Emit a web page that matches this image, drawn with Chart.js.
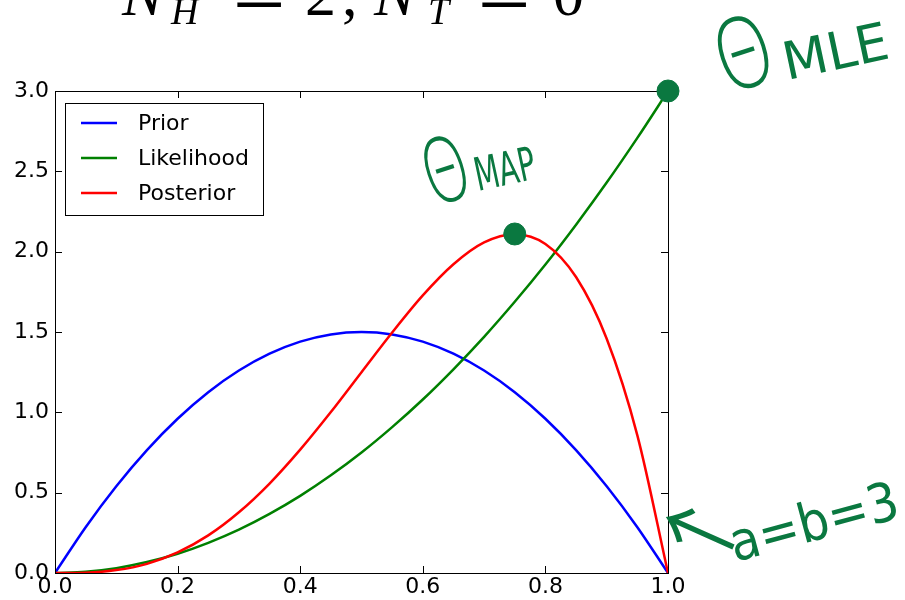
<!DOCTYPE html>
<html>
<head>
<meta charset="utf-8">
<script src="https://cdn.jsdelivr.net/npm/chart.js@4"></script>
<style>
  body { margin: 0; background: #fff; }
  #wrap { width: 905px; height: 600px; }
</style>
</head>
<body>
<div id="wrap"><canvas id="betaChart" width="905" height="600"></canvas></div>
<script>
// Valores (theta de 0 a 1)
const thetas = [0, 0.05, 0.1, 0.15, 0.2, 0.25, 0.3, 0.35, 0.4, 0.45, 0.5, 0.55, 0.6, 0.65, 0.7, 0.75, 0.8, 0.85, 0.9, 0.95, 1.0];
const priorVals = [0, 0.285, 0.54, 0.765, 0.96, 1.125, 1.26, 1.365, 1.44, 1.485, 1.5, 1.485, 1.44, 1.365, 1.26, 1.125, 0.96, 0.765, 0.54, 0.285, 0];
const likelihoodVals = [0, 0.008, 0.03, 0.068, 0.12, 0.188, 0.27, 0.368, 0.48, 0.608, 0.75, 0.908, 1.08, 1.268, 1.47, 1.688, 1.92, 2.168, 2.43, 2.708, 3.0];
const posteriorVals = [0, 0.002, 0.018, 0.057, 0.128, 0.234, 0.378, 0.557, 0.768, 1.002, 1.25, 1.497, 1.728, 1.922, 2.058, 2.109, 2.048, 1.842, 1.458, 0.857, 0];
const seriesNames = ['Prior', 'Likelihood', 'Posterior'];
const seriesColors = ['#0000ff', '#008000', '#ff0000'];
// Pontos marcados à mão (MAP e MLE)
const markThetas = [0.75, 1.0];
const markVals = [2.11, 3.0];
const xTicks = [0, 0.2, 0.4, 0.6, 0.8, 1.0];
const yTicks = [0, 0.5, 1.0, 1.5, 2.0, 2.5, 3.0];

const inkGreen = '#0a7840';

function pairs(xs, ys) {
    return xs.map((x, i) => ({ x: x, y: ys[i] }));
}

// Moldura, ticks para dentro e legenda (estilo matplotlib)
const framePlugin = {
    id: 'frame',
    afterDatasetDraw(chart, args) {
        if (args.index !== 2) return;
        const ctx = chart.ctx;
        const a = chart.chartArea;
        const xs = chart.scales.x, ys = chart.scales.y;
        ctx.save();
        ctx.strokeStyle = '#000';
        ctx.lineWidth = 1;
        ctx.strokeRect(Math.round(a.left) + 0.5, Math.round(a.top) + 0.5,
            Math.round(a.right - a.left), Math.round(a.bottom - a.top));
        ctx.beginPath();
        xTicks.forEach(v => {
            const px = Math.round(xs.getPixelForValue(v)) + 0.5;
            ctx.moveTo(px, a.bottom); ctx.lineTo(px, a.bottom - 7);
            ctx.moveTo(px, a.top); ctx.lineTo(px, a.top + 7);
        });
        yTicks.forEach(v => {
            const py = Math.round(ys.getPixelForValue(v)) + 0.5;
            ctx.moveTo(a.left, py); ctx.lineTo(a.left + 7, py);
            ctx.moveTo(a.right, py); ctx.lineTo(a.right - 7, py);
        });
        ctx.stroke();

        // legenda
        ctx.fillStyle = '#fff';
        ctx.fillRect(65, 103, 198, 112);
        ctx.strokeRect(65.5, 103.5, 198, 112);
        ctx.font = '22px "DejaVu Sans"';
        ctx.textBaseline = 'middle';
        ctx.textAlign = 'left';
        seriesNames.forEach((name, i) => {
            const y = 123 + i * 35;
            ctx.strokeStyle = seriesColors[i];
            ctx.lineWidth = 2.5;
            ctx.beginPath();
            ctx.moveTo(81, y); ctx.lineTo(117, y);
            ctx.stroke();
            ctx.fillStyle = '#000';
            ctx.fillText(name, 138, y + 1);
        });
        ctx.restore();
    },
    afterDraw(chart) {
        const ctx = chart.ctx;
        ctx.save();
        // título cortado no topo
        ctx.fillStyle = '#000';
        const big = '62px "Liberation Serif"';
        const bigIt = 'italic 62px "Liberation Serif"';
        const subIt = 'italic 38px "Liberation Serif"';
        const eq = '58px "DejaVu Serif"';
        const parts = [
            [bigIt, 'N', 122, 15, 1], [subIt, 'H', 171, 24, 1], [eq, '=', 230, 17, 1.2],
            [big, '2', 305, 15, 1], [big, ',', 342, 15, 1],
            [bigIt, 'N', 374, 15, 1], [subIt, 'T', 428, 24, 1], [eq, '=', 475, 17, 1.2],
            [big, '0', 553, 15, 1]
        ];
        parts.forEach(p => hand(ctx, p[1], p[2], p[3], 0, p[4], p[0]));

        // anotações manuscritas
        ctx.fillStyle = inkGreen;
        handC(ctx, 'Θ', 743, 52, 100, -18, 0.72, '300 100px "Open Sans"');
        hand(ctx, 'MLE', 787, 80, -12, 1, '52px "DejaVu Sans"');
        handC(ctx, 'Θ', 445, 169, 92, -18, 0.62, '300 92px "Open Sans"');
        hand(ctx, 'MAP', 478, 191, -12, 0.62, '46px "DejaVu Sans"');
        ctx.save();
        ctx.translate(700, 532);
        ctx.rotate(24 * Math.PI / 180);
        ctx.font = '80px "Noto Sans CJK SC"';
        ctx.textAlign = 'center';
        ctx.textBaseline = 'middle';
        ctx.fillText('←', 0, 0);
        ctx.restore();
        hand(ctx, 'a=b=3', 735, 562, -15, 0.9, '54px "DejaVu Sans"');
        ctx.restore();
    }
};

function hand(ctx, text, x, y, angle, sx, font) {
    ctx.save();
    ctx.translate(x, y);
    ctx.rotate(angle * Math.PI / 180);
    ctx.scale(sx, 1);
    ctx.font = font;
    ctx.textAlign = 'left';
    ctx.textBaseline = 'alphabetic';
    ctx.fillText(text, 0, 0);
    ctx.restore();
}

// desenha um glifo centrado em (cx, cy)
function handC(ctx, text, cx, cy, size, angle, sx, font) {
    ctx.save();
    ctx.translate(cx, cy);
    ctx.rotate(angle * Math.PI / 180);
    ctx.scale(sx, 1);
    ctx.font = font;
    ctx.textAlign = 'center';
    ctx.textBaseline = 'alphabetic';
    ctx.fillText(text, 0, size * 0.36);
    ctx.restore();
}

Chart.defaults.font.family = '"DejaVu Sans"';
Chart.defaults.color = '#000';

const datasets = seriesNames.map((name, i) => ({
    label: name,
    data: pairs(thetas, [priorVals, likelihoodVals, posteriorVals][i]),
    borderColor: seriesColors[i],
    borderWidth: 2.5,
    pointRadius: 0,
    cubicInterpolationMode: 'monotone',
    fill: false,
    order: 3 - i
}));
datasets.push({
    label: 'marks',
    type: 'scatter',
    data: pairs(markThetas, markVals),
    backgroundColor: inkGreen,
    borderColor: inkGreen,
    pointRadius: 11,
    pointHoverRadius: 11,
    clip: false,
    order: 0
});

new Chart(document.getElementById('betaChart'), {
    type: 'line',
    data: { datasets: datasets },
    options: {
        responsive: false,
        animation: false,
        devicePixelRatio: 1,
        layout: { padding: { left: 0, right: 237, top: 91, bottom: 0 } },
        plugins: { legend: { display: false }, tooltip: { enabled: false } },
        scales: {
            x: {
                type: 'linear', min: 0, max: 1,
                afterFit: s => { s.height = 27; },
                afterBuildTicks: s => { s.ticks = xTicks.map(v => ({ value: v })); },
                ticks: { callback: v => v.toFixed(1), font: { size: 22 }, padding: 1, maxRotation: 0 },
                grid: { display: false, drawTicks: false },
                border: { display: false }
            },
            y: {
                type: 'linear', min: 0, max: 3,
                afterFit: s => { s.width = 55; },
                afterBuildTicks: s => { s.ticks = yTicks.map(v => ({ value: v })); },
                ticks: { callback: v => v.toFixed(1), font: { size: 22 }, padding: 6 },
                grid: { display: false, drawTicks: false },
                border: { display: false }
            }
        }
    },
    plugins: [framePlugin]
});
</script>
</body>
</html>
